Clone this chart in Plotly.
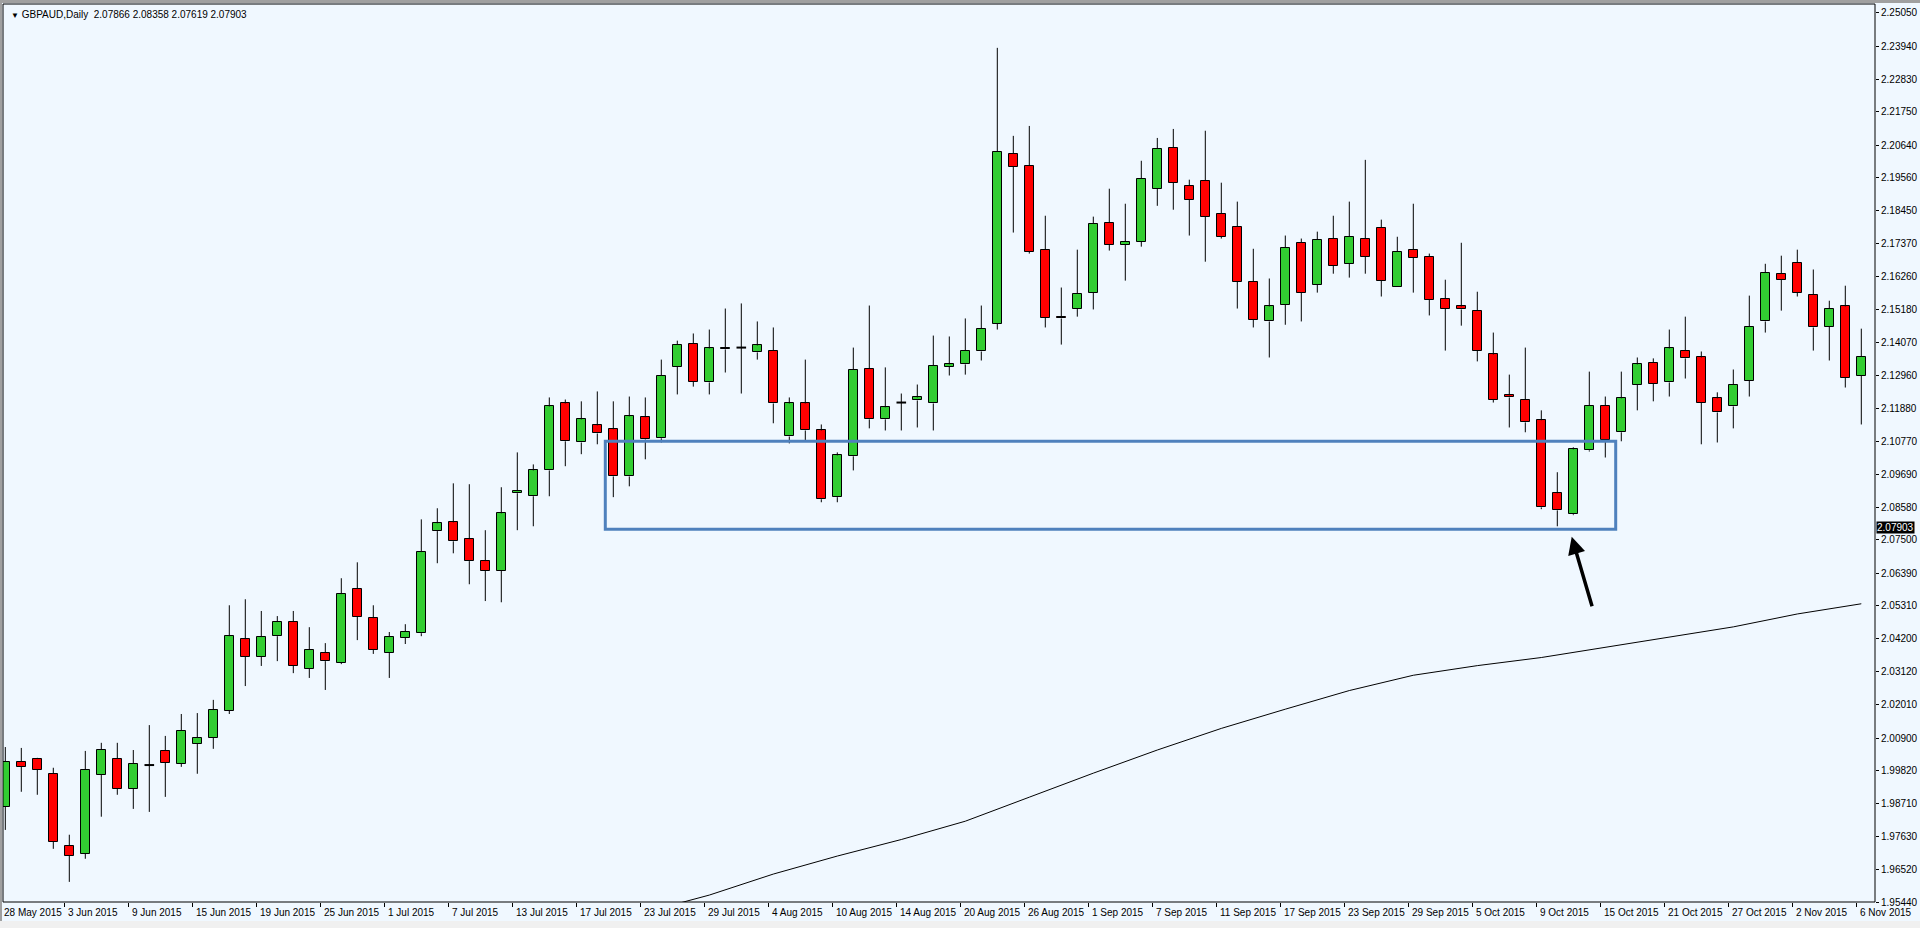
import pandas as pd
import plotly.graph_objects as go

# ---------------- data ----------------
dates = pd.bdate_range("2015-05-28", "2015-11-06")  # 117 daily bars (no weekend bars)

opens = [1.9861, 2.0010, 2.0020, 1.9971, 1.9731, 1.9705, 1.9967, 2.0020, 1.9921, 2.0000,
         2.0047, 2.0004, 2.0070, 2.0090, 2.0180, 2.0419, 2.0360, 2.0429, 2.0476, 2.0320,
         2.0373, 2.0340, 2.0586, 2.0489, 2.0373, 2.0423, 2.0439, 2.0779, 2.0808, 2.0752,
         2.0679, 2.0646, 2.0905, 2.0895, 2.0981, 2.1204, 2.1074, 2.1131, 2.1118, 2.0961,
         2.1158, 2.1088, 2.1327, 2.1403, 2.1274, 2.1384, 2.1390, 2.1374, 2.1380, 2.1094,
         2.1204, 2.1114, 2.0892, 2.1028, 2.1320, 2.1151, 2.1207, 2.1214, 2.1204, 2.1327,
         2.1334, 2.1377, 2.1470, 2.2035, 2.1995, 2.1716, 2.1493, 2.1520, 2.1573, 2.1806,
         2.1733, 2.1743, 2.1919, 2.2055, 2.1929, 2.1945, 2.1836, 2.1793, 2.1610, 2.1477,
         2.1533, 2.1739, 2.1600, 2.1753, 2.1669, 2.1753, 2.1789, 2.1593, 2.1716, 2.1693,
         2.1553, 2.1527, 2.1513, 2.1367, 2.1231, 2.1217, 2.1148, 2.0905, 2.0835, 2.1048,
         2.1197, 2.1108, 2.1267, 2.1340, 2.1274, 2.1380, 2.1357, 2.1221, 2.1194, 2.1280,
         2.1477, 2.1636, 2.1673, 2.1566, 2.1460, 2.1527, 2.1297]
highs = [2.0060, 2.0057, 2.0024, 1.9991, 1.9768, 2.0047, 2.0074, 2.0074, 2.0050, 2.0133,
         2.0097, 2.0170, 2.0173, 2.0217, 2.0532, 2.0552, 2.0513, 2.0496, 2.0513, 2.0459,
         2.0406, 2.0622, 2.0675, 2.0532, 2.0443, 2.0469, 2.0818, 2.0855, 2.0938, 2.0935,
         2.0782, 2.0925, 2.1041, 2.1001, 2.1224, 2.1217, 2.1211, 2.1244, 2.1211, 2.1227,
         2.1224, 2.1350, 2.1413, 2.1437, 2.1450, 2.1520, 2.1537, 2.1477, 2.1457, 2.1224,
         2.1350, 2.1134, 2.1041, 2.1390, 2.1530, 2.1324, 2.1237, 2.1267, 2.1430, 2.1427,
         2.1487, 2.1530, 2.2388, 2.2095, 2.2128, 2.1829, 2.1590, 2.1716, 2.1826, 2.1919,
         2.1869, 2.2012, 2.2088, 2.2118, 2.1949, 2.2112, 2.1939, 2.1876, 2.1719, 2.1620,
         2.1763, 2.1753, 2.1776, 2.1829, 2.1876, 2.2015, 2.1816, 2.1759, 2.1869, 2.1703,
         2.1616, 2.1739, 2.1576, 2.1440, 2.1300, 2.1390, 2.1181, 2.0975, 2.1058, 2.1310,
         2.1227, 2.1310, 2.1357, 2.1354, 2.1450, 2.1493, 2.1377, 2.1241, 2.1317, 2.1563,
         2.1669, 2.1696, 2.1716, 2.1650, 2.1546, 2.1596, 2.1453]
lows = [1.9784, 1.9911, 1.9901, 1.9721, 1.9611, 1.9688, 1.9828, 1.9901, 1.9854, 1.9844,
        1.9894, 1.9994, 1.9971, 2.0054, 2.0170, 2.0263, 2.0330, 2.0346, 2.0306, 2.0290,
        2.0250, 2.0336, 2.0416, 2.0370, 2.0290, 2.0403, 2.0429, 2.0672, 2.0705, 2.0602,
        2.0546, 2.0542, 2.0782, 2.0795, 2.0895, 2.0995, 2.1035, 2.1068, 2.0892, 2.0928,
        2.1018, 2.1074, 2.1234, 2.1260, 2.1234, 2.1307, 2.1237, 2.1350, 2.1138, 2.1071,
        2.1081, 2.0875, 2.0875, 2.0981, 2.1121, 2.1114, 2.1114, 2.1124, 2.1114, 2.1297,
        2.1300, 2.1347, 2.1450, 2.1773, 2.1703, 2.1457, 2.1400, 2.1493, 2.1517, 2.1713,
        2.1613, 2.1726, 2.1862, 2.1849, 2.1763, 2.1676, 2.1753, 2.1520, 2.1457, 2.1357,
        2.1466, 2.1477, 2.1573, 2.1636, 2.1623, 2.1636, 2.1560, 2.1593, 2.1573, 2.1497,
        2.1380, 2.1463, 2.1344, 2.1207, 2.1124, 2.1108, 2.0852, 2.0795, 2.0832, 2.1044,
        2.1024, 2.1078, 2.1181, 2.1211, 2.1227, 2.1287, 2.1068, 2.1074, 2.1121, 2.1227,
        2.1440, 2.1513, 2.1560, 2.1380, 2.1347, 2.1257, 2.1134]
closes = [2.0010, 1.9994, 1.9984, 1.9744, 1.9698, 1.9984, 2.0050, 1.9921, 2.0004, 2.0000,
          2.0007, 2.0114, 2.0090, 2.0183, 2.0429, 2.0360, 2.0426, 2.0476, 2.0330, 2.0383,
          2.0346, 2.0569, 2.0493, 2.0383, 2.0426, 2.0443, 2.0709, 2.0805, 2.0745, 2.0679,
          2.0646, 2.0838, 2.0912, 2.0981, 2.1194, 2.1078, 2.1151, 2.1104, 2.0961, 2.1161,
          2.1084, 2.1297, 2.1400, 2.1277, 2.1387, 2.1390, 2.1390, 2.1397, 2.1204, 2.1204,
          2.1114, 2.0885, 2.1031, 2.1317, 2.1151, 2.1191, 2.1207, 2.1224, 2.1330, 2.1334,
          2.1380, 2.1453, 2.2042, 2.1992, 2.1709, 2.1490, 2.1487, 2.1570, 2.1803, 2.1733,
          2.1743, 2.1952, 2.2052, 2.1939, 2.1882, 2.1826, 2.1759, 2.1610, 2.1483, 2.1527,
          2.1723, 2.1573, 2.1749, 2.1663, 2.1759, 2.1693, 2.1613, 2.1709, 2.1689, 2.1550,
          2.1520, 2.1517, 2.1380, 2.1217, 2.1224, 2.1141, 2.0858, 2.0848, 2.1051, 2.1197,
          2.1081, 2.1221, 2.1334, 2.1270, 2.1387, 2.1354, 2.1207, 2.1174, 2.1267, 2.1460,
          2.1640, 2.1616, 2.1573, 2.1457, 2.1520, 2.1290, 2.1360]

# moving average readings (bar number, value)
ma_bars = [40, 44, 48, 52, 56, 60, 64, 68, 72, 76, 80, 84, 88, 92, 96, 100, 104, 108, 112, 116]
ma_values = [1.9510, 1.9567, 1.9637, 1.9697, 1.9752, 1.9813, 1.9893, 1.9973, 2.0050, 2.0122,
             2.0186, 2.0248, 2.0299, 2.0331, 2.0358, 2.0392, 2.0426, 2.0460, 2.0503, 2.0537]

x_tick_labels = ["28 May 2015", "3 Jun 2015", "9 Jun 2015", "15 Jun 2015", "19 Jun 2015",
                 "25 Jun 2015", "1 Jul 2015", "7 Jul 2015", "13 Jul 2015", "17 Jul 2015",
                 "23 Jul 2015", "29 Jul 2015", "4 Aug 2015", "10 Aug 2015", "14 Aug 2015",
                 "20 Aug 2015", "26 Aug 2015", "1 Sep 2015", "7 Sep 2015", "11 Sep 2015",
                 "17 Sep 2015", "23 Sep 2015", "29 Sep 2015", "5 Oct 2015", "9 Oct 2015",
                 "15 Oct 2015", "21 Oct 2015", "27 Oct 2015", "2 Nov 2015", "6 Nov 2015"]
y_tick_values = [2.25050, 2.23940, 2.22830, 2.21750, 2.20640, 2.19560, 2.18450, 2.17370,
                 2.16260, 2.15180, 2.14070, 2.12960, 2.11880, 2.10770, 2.09690, 2.08580,
                 2.07500, 2.06390, 2.05310, 2.04200, 2.03120, 2.02010, 2.00900, 1.99820,
                 1.98710, 1.97630, 1.96520, 1.95440]

symbol_text = "GBPAUD,Daily"
header_ohlc = [2.07866, 2.08358, 2.07619, 2.07903]
current_price = 2.07903

zone_first_bar, zone_last_bar = 37.5, 100.65
zone_low, zone_high = 2.0785, 2.1078
arrow_tip = (97.9, 2.0760)
arrow_tail = (99.2, 2.0524)

# ---------------- styling ----------------
BG = "#F0F8FF"
BULL = "#32CD32"
BEAR = "#FF0000"
FONT = "Liberation Sans, Arial, sans-serif"
BODY_W = 0.6

n = len(dates)
idx = list(range(n))
date_list = list(dates)
tick_pos = [date_list.index(pd.to_datetime(t, format="%d %b %Y")) for t in x_tick_labels]

bull = [i for i in idx if closes[i] > opens[i]]
bear = [i for i in idx if closes[i] < opens[i]]
doji = [i for i in idx if closes[i] == opens[i]]

# wicks (split so they don't cross bodies)
wx, wy = [], []
for i in idx:
    top = max(opens[i], closes[i])
    bot = min(opens[i], closes[i])
    if highs[i] > top:
        wx += [i, i, None]; wy += [top, highs[i], None]
    if lows[i] < bot:
        wx += [i, i, None]; wy += [lows[i], bot, None]

dx, dy = [], []
for i in doji:
    dx += [i - BODY_W / 2, i + BODY_W / 2, None]
    dy += [opens[i], opens[i], None]

fig = go.Figure()
fig.add_trace(go.Bar(x=bull, y=[closes[i] - opens[i] for i in bull], base=[opens[i] for i in bull],
                     width=BODY_W, marker=dict(color=BULL, line=dict(color="black", width=1)),
                     hoverinfo="skip"))
fig.add_trace(go.Bar(x=bear, y=[opens[i] - closes[i] for i in bear], base=[closes[i] for i in bear],
                     width=BODY_W, marker=dict(color=BEAR, line=dict(color="black", width=1)),
                     hoverinfo="skip"))
fig.add_trace(go.Scatter(x=wx, y=wy, mode="lines", line=dict(color="black", width=1),
                         hoverinfo="skip"))
fig.add_trace(go.Scatter(x=dx, y=dy, mode="lines", line=dict(color="black", width=2),
                         hoverinfo="skip"))
fig.add_trace(go.Scatter(x=ma_bars, y=ma_values, mode="lines", line=dict(color="black", width=1),
                         hoverinfo="skip"))

L, R, T, B = 3, 45, 4, 26
W, H = 1920, 928
PW, PH = W - L - R, H - T - B


def px_x(p):
    return (p - L) / PW


def px_y(p):
    return (H - B - p) / PH


shapes = [
    dict(type="rect", xref="x", yref="y", x0=zone_first_bar, x1=zone_last_bar,
         y0=zone_low, y1=zone_high, line=dict(color="#4F81BD", width=3)),
    dict(type="rect", xref="paper", yref="paper", x0=0, x1=1, y0=0, y1=1,
         line=dict(color="black", width=1)),
    dict(type="rect", xref="paper", yref="paper", x0=px_x(0), x1=px_x(2), y0=px_y(H), y1=px_y(0),
         fillcolor="#A0A0A0", line=dict(width=0), layer="above"),
    dict(type="rect", xref="paper", yref="paper", x0=px_x(0), x1=px_x(W), y0=px_y(3), y1=px_y(0),
         fillcolor="#A0A0A0", line=dict(width=0), layer="above"),
    dict(type="rect", xref="paper", yref="paper", x0=px_x(0), x1=px_x(W), y0=px_y(H), y1=px_y(921),
         fillcolor="#F0F0F0", line=dict(width=0), layer="above"),
]

annotations = []
for pos, lab in zip(tick_pos, x_tick_labels):
    annotations.append(dict(x=pos, y=0, xref="x", yref="paper", text=lab, showarrow=False,
                            xanchor="left", yanchor="top", yshift=-3, xshift=-3,
                            font=dict(family=FONT, size=10, color="black")))

annotations.append(dict(x=px_x(9), y=1, xref="paper", yref="paper", xanchor="left", yanchor="top",
                        yshift=-3, showarrow=False,
                        text="<span style='font-size:8px'>▼</span> " + symbol_text + "\u00a0\u00a0"
                             + " ".join(f"{v:.5f}" for v in header_ohlc),
                        font=dict(family=FONT, size=10, color="black")))

annotations.append(dict(x=1, y=current_price, xref="paper", yref="y", xanchor="left", yanchor="middle",
                        xshift=1, showarrow=False, text=f"{current_price:.5f}", bgcolor="black",
                        borderpad=0, font=dict(family=FONT, size=10, color="white")))

annotations.append(dict(x=arrow_tip[0], y=arrow_tip[1], ax=arrow_tail[0], ay=arrow_tail[1],
                        xref="x", yref="y", axref="x", ayref="y", text="", showarrow=True,
                        arrowhead=2, arrowsize=1, arrowwidth=3.5, arrowcolor="black"))

fig.update_layout(
    width=W, height=H,
    margin=dict(l=L, r=R, t=T, b=B),
    paper_bgcolor=BG, plot_bgcolor=BG,
    showlegend=False, barmode="overlay", bargap=0,
    font=dict(family=FONT, size=10, color="black"),
    shapes=shapes, annotations=annotations,
    xaxis=dict(range=[-0.144, 116.856], showgrid=False, zeroline=False, showline=False,
               ticks="outside", ticklen=4, tickcolor="black",
               tickvals=[p - 0.3 for p in tick_pos], showticklabels=False, fixedrange=True),
    yaxis=dict(side="right", range=[1.9544, 2.2534], showgrid=False, zeroline=False, showline=False,
               ticks="outside", ticklen=3, tickcolor="black",
               tickvals=y_tick_values, ticktext=[f"{v:.5f}" for v in y_tick_values],
               tickfont=dict(family=FONT, size=10, color="black"), fixedrange=True),
)

fig.write_html("out.html", config={"displayModeBar": False},
               post_script="document.body.style.margin='0';document.body.style.overflow='hidden';")
